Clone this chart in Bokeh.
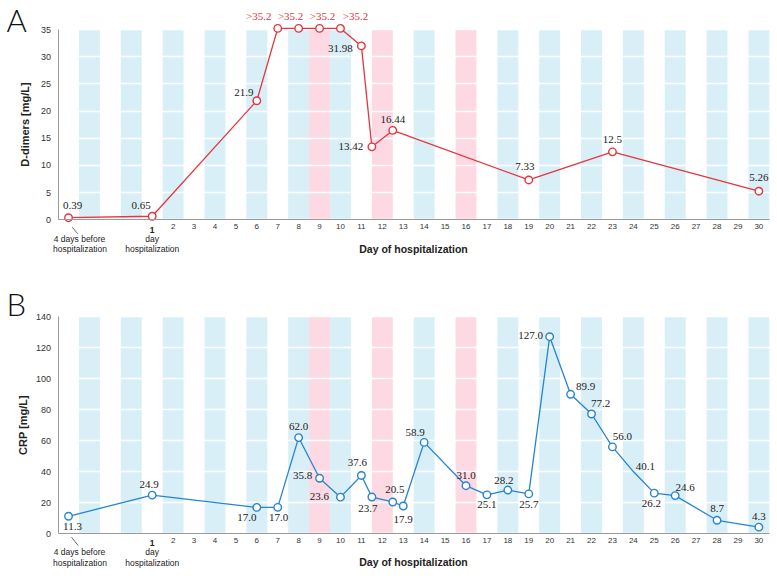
from bokeh.plotting import figure
from bokeh.models import Range1d, FixedTicker, LabelSet, Label, ColumnDataSource, Arrow
from bokeh.layouts import column
from bokeh.embed import file_html
from bokeh.resources import INLINE

# ---------------- data ----------------
dd_days = [-3, 1, 6, 7, 8, 9, 10, 11, 11.5, 12.5, 19, 23, 30]
dd_values = [0.39, 0.65, 21.9, 35.2, 35.2, 35.2, 35.2, 31.98, 13.42, 16.44, 7.33, 12.5, 5.26]
dd_labels = ["0.39", "0.65", "21.9", ">35.2", ">35.2", ">35.2", ">35.2",
             "31.98", "13.42", "16.44", "7.33", "12.5", "5.26"]

crp_days = [-3, 1, 6, 7, 8, 9, 10, 11, 11.5, 12.5, 13, 14, 16, 17, 18, 19,
            20, 21, 22, 23, 24, 25, 26, 28, 30]
crp_values = [11.3, 24.9, 17.0, 17.0, 62.0, 35.8, 23.6, 37.6, 23.7, 20.5, 17.9, 58.9,
              31.0, 25.1, 28.2, 25.7, 127.0, 89.9, 77.2, 56.0, 40.1, 26.2, 24.6, 8.7, 4.3]
crp_marked = [True, True, True, True, True, True, True, True, True, True, True, True,
              True, True, True, True, True, True, True, True, False, True, True, True, True]

day_ticks = list(range(1, 31))
dd_ticks = [0, 5, 10, 15, 20, 25, 30, 35]
crp_ticks = [0, 20, 40, 60, 80, 100, 120, 140]
blue_stripe_days = [-2, 0, 2, 4, 6, 8, 10, 14, 18, 20, 22, 24, 26, 28, 30]
pink_stripe_days = [9, 12, 16]

# ---------------- style / layout ----------------
FONT = "Liberation Sans"
LETTER_FONT = "Lato Light, Liberation Sans"
RED = "#e8343c"
BLUE = "#2684d2"
STRIPE_BLUE = "#d9eff7"
STRIPE_PINK = "#fdd9e3"
AXIS_GRAY = "#9a9a9a"
TXT = "#222222"

W = 775
DAY1_PX = 151.7          # horizontal pixel of day 1
PXD = 20.92              # pixels per day
XS = 1 - DAY1_PX / PXD
XE = XS + W / PXD
AX0, AX1 = -3.5, 30.5    # extent of the plotted day axis

# label offsets in screen pixels (dx right, dy down)
dd_off = [(4, -12), (-11, -11), (-13, -8), (-19, -12), (-8, -12), (3, -12), (15, -12),
          (-21, 3), (-21, 0), (0, -11), (-4, -13), (0, -12), (0, -14)]
crp_off = [(4, 10), (-3, -11), (-10, 10), (1, 10), (0, -11), (-17, -3), (-21, -1),
           (-4, -13), (-4, 11), (2, -12), (0, 13), (-9, -10), (0, -10), (0, 10),
           (-4, -10), (0, 11), (-19, -1), (15, -8), (9, -10), (10, -10), (12, -5),
           (-3, 10), (10, -8), (0, -12), (0, -11)]


def make_panel(days, values, labels, offsets, marked, color, ytop, ticks, ylabel,
               ylabel_standoff, H, zero_px, pyv, letter, ann, leader, label_colors):
    ys = (zero_px - H) / pyv
    ye = zero_px / pyv
    p = figure(width=W, height=H, x_range=Range1d(XS, XE), y_range=Range1d(ys, ye),
               output_backend="svg", toolbar_location=None,
               min_border=0, min_border_left=0, min_border_right=0,
               min_border_top=0, min_border_bottom=0,
               outline_line_color=None, background_fill_color="white",
               border_fill_color="white")

    def ref(x, y):
        return 1 + (x - DAY1_PX) / PXD, (zero_px - y) / pyv

    # stripes
    p.vbar(x=blue_stripe_days, width=1, bottom=0, top=ytop, fill_color=STRIPE_BLUE,
           line_color=None, level="image")
    p.vbar(x=pink_stripe_days, width=1, bottom=0, top=ytop, fill_color=STRIPE_PINK,
           line_color=None, level="image")

    p.xgrid.visible = False
    p.ygrid.ticker = FixedTicker(ticks=ticks)
    p.ygrid.grid_line_color = "white"
    p.ygrid.grid_line_width = 1.5

    # axes drawn at fixed data locations
    xa = p.xaxis[0]
    xa.fixed_location = 0
    xa.bounds = (AX0, AX1)
    xa.ticker = FixedTicker(ticks=day_ticks)
    xa.major_label_overrides = {1: ""}
    xa.major_tick_out = 0
    xa.major_tick_in = 0
    xa.minor_tick_out = 0
    xa.minor_tick_in = 0
    xa.axis_line_color = AXIS_GRAY
    xa.major_label_text_font = FONT
    xa.major_label_text_font_size = "8px"
    xa.major_label_text_color = "#333333"
    xa.major_label_standoff = 4

    ya = p.yaxis[0]
    ya.fixed_location = AX0
    ya.bounds = (0, ytop)
    ya.ticker = FixedTicker(ticks=ticks)
    ya.major_tick_out = 0
    ya.major_tick_in = 0
    ya.minor_tick_out = 0
    ya.minor_tick_in = 0
    ya.axis_line_color = AXIS_GRAY
    ya.major_label_text_font = FONT
    ya.major_label_text_font_size = "9px"
    ya.major_label_text_color = "#333333"
    ya.major_label_standoff = 7
    ya.axis_label = ylabel
    ya.axis_label_text_font = FONT
    ya.axis_label_text_font_style = "bold"
    ya.axis_label_text_font_size = "11px"
    ya.axis_label_text_color = TXT
    ya.axis_label_standoff = ylabel_standoff

    # data
    p.line(days, values, line_color=color, line_width=1.3)
    md = [d for d, m in zip(days, marked) if m]
    mv = [v for v, m in zip(values, marked) if m]
    p.scatter(md, mv, marker="circle", size=7.5, fill_color="white",
              line_color=color, line_width=1.4)

    lx = [d + o[0] / PXD for d, o in zip(days, offsets)]
    ly = [v - o[1] / pyv for v, o in zip(values, offsets)]
    src = ColumnDataSource(dict(x=lx, y=ly, t=labels, c=label_colors))
    p.add_layout(LabelSet(x="x", y="y", text="t", source=src, text_color="c",
                          text_align="center", text_baseline="middle",
                          text_font=FONT, text_font_size="11px"))

    # annotations below the axis
    for (tx, ty, txt, size, bold) in ann:
        xd, yd = ref(tx, ty)
        p.add_layout(Label(x=xd, y=yd, text=txt, text_align="center",
                           text_baseline="middle", text_font=FONT,
                           text_font_size=size, text_color=TXT,
                           text_font_style="bold" if bold else "normal"))
    s = ref(*leader[0]); e = ref(*leader[1])
    p.add_layout(Arrow(x_start=s[0], y_start=s[1], x_end=e[0], y_end=e[1], end=None,
                       line_color="#444444", line_width=0.8))
    lx0, ly0 = ref(*letter[1])
    p.add_layout(Label(x=lx0, y=ly0, text=letter[0], text_align="left",
                       text_baseline="middle", text_font=LETTER_FONT,
                       text_font_size="31px", text_color="#111111"))
    return p


# Panel A (pixel positions relative to panel top)
dd_colors = [RED if t.startswith(">") else TXT for t in dd_labels]
annA = [(79, 238.5, "4 days before", "8.5px", False),
        (79.5, 248.3, "hospitalization", "8.5px", False),
        (151.7, 238.5, "day", "8.5px", False),
        (151.8, 248.3, "hospitalization", "8.5px", False),
        (151.7, 229.3, "1", "8.5px", True),
        (413, 248, "Day of hospitalization", "10.5px", True)]
pA = make_panel(dd_days, dd_values, dd_labels, dd_off, [True] * len(dd_days), RED,
                35, dd_ticks, "D-dimers [mg/L]", 7, 280, 219.3, 5.437,
                ("A", (6, 19)), annA, ((71.7, 226.7), (77.3, 233.3)), dd_colors)

# Panel B (pixel positions relative to panel top at 280)
crp_labels = ["%.1f" % v for v in crp_values]
annB = [(79, 271.7, "4 days before", "8.5px", False),
        (79.5, 282.5, "hospitalization", "8.5px", False),
        (151.7, 271.7, "day", "8.5px", False),
        (151.8, 282.5, "hospitalization", "8.5px", False),
        (151.7, 262.3, "1", "8.5px", True),
        (413, 281.7, "Day of hospitalization", "10.5px", True)]
pB = make_panel(crp_days, crp_values, crp_labels, crp_off, crp_marked, BLUE,
                140, crp_ticks, "CRP [mg/L]", 4, 294, 253.3, 1.552,
                ("B", (6, 23)), annB, ((71, 256.7), (77.7, 265)), [TXT] * len(crp_days))

layout = column(pA, pB, spacing=0)
open("out.html", "w").write(file_html(layout, INLINE))
